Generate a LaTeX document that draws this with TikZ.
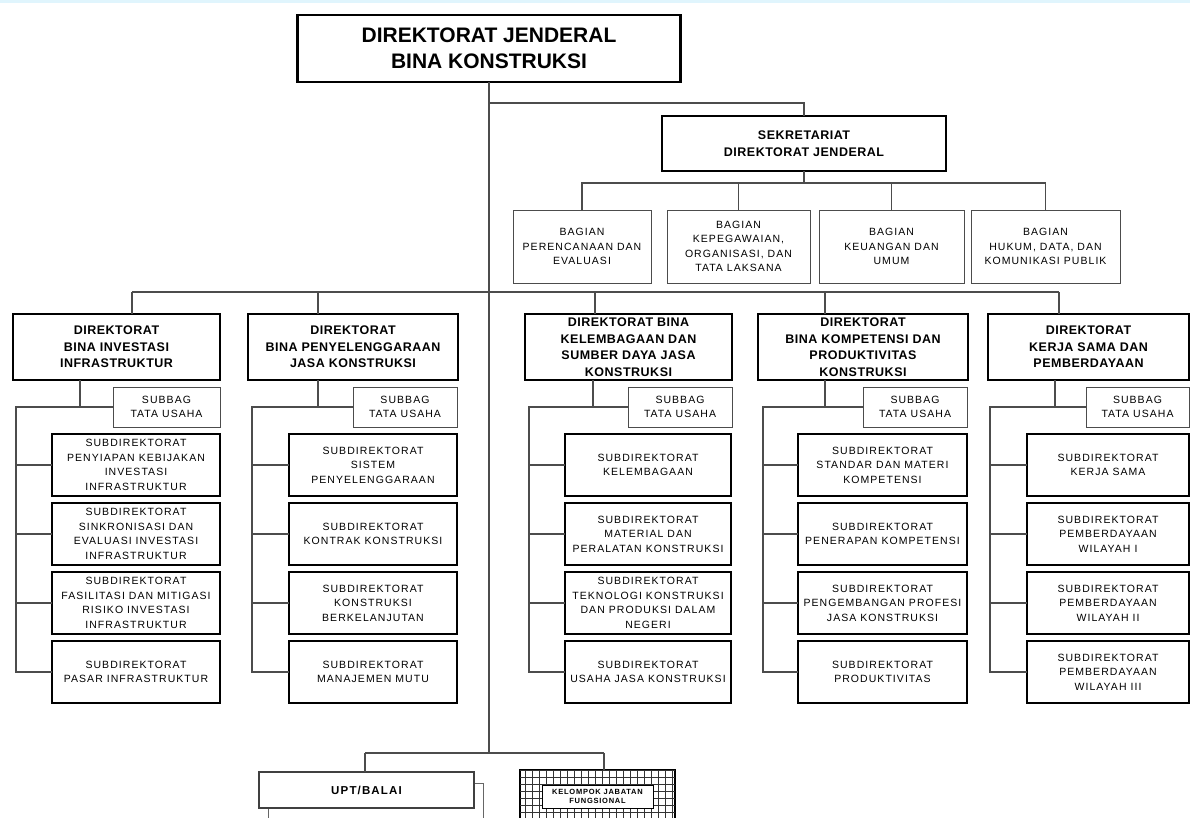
\documentclass[tikz,border=0pt]{standalone}
\usepackage{fontspec}
\setmainfont{Liberation Sans}
\newfontfamily\wideface{Liberation Sans}[LetterSpace=10]
\newfontfamily\semiwide{Liberation Sans}[LetterSpace=4]
\usetikzlibrary{positioning}

\begin{document}
\begin{tikzpicture}[
  x=1pt, y=-1pt,
  box/.style={draw, fill=white, align=center, inner sep=0pt, outer sep=0pt},
  head/.style={box, line width=2.4pt, font=\fontsize{21}{26}\selectfont\bfseries},
  sekr/.style={box, line width=2.4pt, font=\semiwide\fontsize{12.5}{17}\selectfont\bfseries},
  dirbox/.style={box, line width=2.4pt, minimum height=66pt, font=\semiwide\fontsize{12.5}{16.5}\selectfont\bfseries},
  bagian/.style={box, draw=black!70, line width=1pt, minimum height=73pt, font=\wideface\fontsize{10.5}{14.5}\selectfont},
  subbag/.style={box, draw=black!70, line width=1pt, minimum width=104pt, minimum height=40pt, font=\wideface\fontsize{10.5}{14.5}\selectfont},
  subdir/.style={box, line width=2pt, minimum height=62pt, font=\wideface\fontsize{10.5}{14.5}\selectfont},
  conn/.style={draw=black!70, line width=1.2pt},
]
\clip (0,0) rectangle (1190,817);
\fill[white] (0,0) rectangle (1190,817);
\fill[cyan!12] (0,0) rectangle (1190,2.5);
% ---- top ----
\node[head, minimum width=383pt, minimum height=67pt] (top) at (489,48.5)
  {DIREKTORAT JENDERAL\\BINA KONSTRUKSI};
\node[sekr, minimum width=284pt, minimum height=55pt] (sek) at (804,143.5)
  {SEKRETARIAT\\DIREKTORAT JENDERAL};
% ---- bagian ----
\node[bagian, minimum width=138pt] (b1) at (582,246.5) {BAGIAN\\PERENCANAAN DAN\\EVALUASI};
\node[bagian, minimum width=143pt] (b2) at (738.5,246.5) {BAGIAN\\KEPEGAWAIAN,\\ORGANISASI, DAN\\TATA LAKSANA};
\node[bagian, minimum width=145pt] (b3) at (891.5,246.5) {BAGIAN\\KEUANGAN DAN\\UMUM};
\node[bagian, minimum width=149pt] (b4) at (1045.5,246.5) {BAGIAN\\HUKUM, DATA, DAN\\KOMUNIKASI PUBLIK};
% ---- direktorat ----
\node[dirbox, minimum width=207pt] (d1) at (116.5,347) {DIREKTORAT\\BINA INVESTASI\\INFRASTRUKTUR};
\node[dirbox, minimum width=210pt] (d2) at (353,347) {DIREKTORAT\\BINA PENYELENGGARAAN\\JASA KONSTRUKSI};
\node[dirbox, minimum width=207pt] (d3) at (628.5,347) {DIREKTORAT BINA\\KELEMBAGAAN DAN\\SUMBER DAYA JASA\\KONSTRUKSI};
\node[dirbox, minimum width=210pt] (d4) at (863,347) {DIREKTORAT\\BINA KOMPETENSI DAN\\PRODUKTIVITAS\\KONSTRUKSI};
\node[dirbox, minimum width=201pt] (d5) at (1088.5,347) {DIREKTORAT\\KERJA SAMA DAN\\PEMBERDAYAAN};
% ---- subbag ----
\node[subbag, minimum width=107pt] (sb1) at (166.5,407) {SUBBAG\\TATA USAHA};
\node[subbag] (sb2) at (405,407) {SUBBAG\\TATA USAHA};
\node[subbag] (sb3) at (680,407) {SUBBAG\\TATA USAHA};
\node[subbag] (sb4) at (915,407) {SUBBAG\\TATA USAHA};
\node[subbag, minimum width=103pt] (sb5) at (1137.5,407) {SUBBAG\\TATA USAHA};
% ---- subdirektorat, column 1 ----
\node[subdir, minimum width=168pt] (s11) at (136,465)
  {SUBDIREKTORAT\\PENYIAPAN KEBIJAKAN\\INVESTASI\\INFRASTRUKTUR};
\node[subdir, minimum width=168pt, below=7pt of s11] (s12)
  {SUBDIREKTORAT\\SINKRONISASI DAN\\EVALUASI INVESTASI\\INFRASTRUKTUR};
\node[subdir, minimum width=168pt, below=7pt of s12] (s13)
  {SUBDIREKTORAT\\FASILITASI DAN MITIGASI\\RISIKO INVESTASI\\INFRASTRUKTUR};
\node[subdir, minimum width=168pt, below=7pt of s13] (s14)
  {SUBDIREKTORAT\\PASAR INFRASTRUKTUR};
% ---- column 2 ----
\node[subdir, minimum width=168pt] (s21) at (373,465)
  {SUBDIREKTORAT\\SISTEM\\PENYELENGGARAAN};
\node[subdir, minimum width=168pt, below=7pt of s21] (s22)
  {SUBDIREKTORAT\\KONTRAK KONSTRUKSI};
\node[subdir, minimum width=168pt, below=7pt of s22] (s23)
  {SUBDIREKTORAT\\KONSTRUKSI\\BERKELANJUTAN};
\node[subdir, minimum width=168pt, below=7pt of s23] (s24)
  {SUBDIREKTORAT\\MANAJEMEN MUTU};
% ---- column 3 ----
\node[subdir, minimum width=166pt] (s31) at (648,465)
  {SUBDIREKTORAT\\KELEMBAGAAN};
\node[subdir, minimum width=166pt, below=7pt of s31] (s32)
  {SUBDIREKTORAT\\MATERIAL DAN\\PERALATAN KONSTRUKSI};
\node[subdir, minimum width=166pt, below=7pt of s32] (s33)
  {SUBDIREKTORAT\\TEKNOLOGI KONSTRUKSI\\DAN PRODUKSI DALAM\\NEGERI};
\node[subdir, minimum width=166pt, below=7pt of s33] (s34)
  {SUBDIREKTORAT\\USAHA JASA KONSTRUKSI};
% ---- column 4 ----
\node[subdir, minimum width=169pt] (s41) at (882.5,465)
  {SUBDIREKTORAT\\STANDAR DAN MATERI\\KOMPETENSI};
\node[subdir, minimum width=169pt, below=7pt of s41] (s42)
  {SUBDIREKTORAT\\PENERAPAN KOMPETENSI};
\node[subdir, minimum width=169pt, below=7pt of s42] (s43)
  {SUBDIREKTORAT\\PENGEMBANGAN PROFESI\\JASA KONSTRUKSI};
\node[subdir, minimum width=169pt, below=7pt of s43] (s44)
  {SUBDIREKTORAT\\PRODUKTIVITAS};
% ---- column 5 ----
\node[subdir, minimum width=162pt] (s51) at (1108,465)
  {SUBDIREKTORAT\\KERJA SAMA};
\node[subdir, minimum width=162pt, below=7pt of s51] (s52)
  {SUBDIREKTORAT\\PEMBERDAYAAN\\WILAYAH I};
\node[subdir, minimum width=162pt, below=7pt of s52] (s53)
  {SUBDIREKTORAT\\PEMBERDAYAAN\\WILAYAH II};
\node[subdir, minimum width=162pt, below=7pt of s53] (s54)
  {SUBDIREKTORAT\\PEMBERDAYAAN\\WILAYAH III};
% ---- UPT and jabatan fungsional ----
\node[box, draw=black!60, line width=1pt, minimum width=215pt, minimum height=36pt] (upt2) at (375.5,801) {};
\node[box, draw=black!75, line width=1.5pt, minimum width=215pt, minimum height=36pt,
  font=\wideface\fontsize{11.5}{14}\selectfont\bfseries] (upt) at (366.5,790) {UPT/BALAI};
\node[box, line width=1.5pt, minimum width=155pt, minimum height=60pt] (kjf) at (597.5,800) {};
\begin{scope}
  \clip (kjf.north west) rectangle (kjf.south east);
  \draw[black!80, line width=0.8pt, step=7pt] (kjf.south west) grid (kjf.north east);
\end{scope}
\node[box, line width=0.8pt, minimum width=111pt, minimum height=23pt,
  font=\wideface\fontsize{7.5}{9.5}\selectfont\bfseries] (kjfl) at (597.5,796.5)
  {KELOMPOK JABATAN\\FUNGSIONAL};
% ---- connectors ----
\coordinate (jsek) at (489,103);
\coordinate (jbot) at (489,753);
\coordinate (bb) at (0,183);
\draw[conn] (top.south) -- (jbot);
\draw[conn] (jsek) -| (sek.north);
\draw[conn] (sek.south) -- (sek.south |- bb);
\draw[conn] (b1.north) -- (b1.north |- bb) -- (b4.north |- bb) -- (b4.north);
\foreach \i in {2,3} \draw[conn] (b\i.north) -- (b\i.north |- bb);
% direktorat bus
\coordinate (t1) at (132,292);
\coordinate (t2) at (318,292);
\coordinate (t3) at (595,292);
\coordinate (t4) at (825,292);
\coordinate (t5) at (1059,292);
\draw[conn] (t1) -- (t5);
% stems and spines
\coordinate (k1) at (80,407);   \coordinate (v1) at (16,407);
\coordinate (k2) at (318,407);  \coordinate (v2) at (252,407);
\coordinate (k3) at (593,407);  \coordinate (v3) at (529,407);
\coordinate (k4) at (825,407);  \coordinate (v4) at (763,407);
\coordinate (k5) at (1055,407); \coordinate (v5) at (990,407);
\foreach \i in {1,...,5} {
  \draw[conn] (t\i) -- (t\i |- d\i.north);
  \draw[conn] (k\i |- d\i.south) -- (k\i);
  \draw[conn] (sb\i.west) -- (v\i) |- (s\i4.west);
  \foreach \j in {1,2,3} \draw[conn] (v\i |- s\i\j.west) -- (s\i\j.west);
}
% bottom bus
\coordinate (u1) at (365,753);
\coordinate (u2) at (604,753);
\draw[conn] (u1) -- (u2);
\draw[conn] (u1) -- (u1 |- upt.north);
\draw[conn] (u2) -- (u2 |- kjf.north);
\end{tikzpicture}
\end{document}
